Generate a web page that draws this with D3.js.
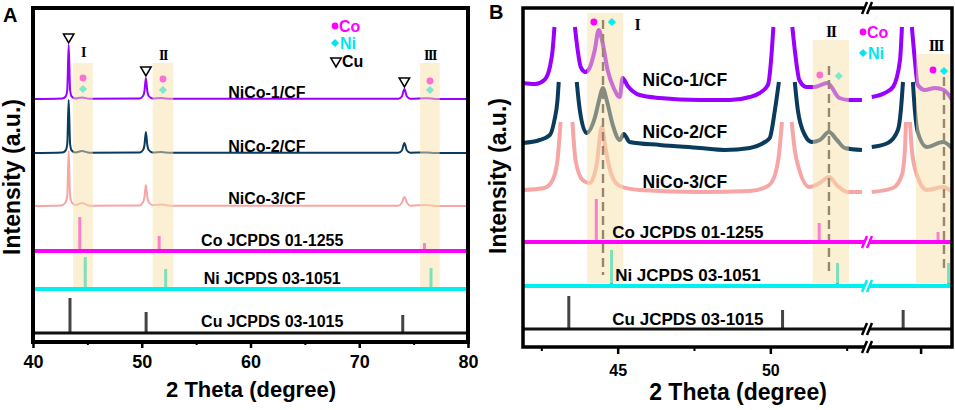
<!DOCTYPE html>
<html>
<head>
<meta charset="utf-8">
<script src="https://cdn.jsdelivr.net/npm/d3@7"></script>
<style>
  body { margin: 0; background: #fff; }
  text { font-family: "Liberation Sans", Arial, sans-serif; font-weight: bold; }
</style>
</head>
<body>
<svg width="955" height="410"></svg>
<script>
// ---- data: [2theta, intensity a.u. above own baseline] ----
const samples = ["NiCo-1/CF", "NiCo-2/CF", "NiCo-3/CF"];
const refNames = ["Co JCPDS 01-1255", "Ni JCPDS 03-1051", "Cu JCPDS 03-1015"];

const coPeaks = [44.3, 51.6, 76.0];
const niPeaks = [44.8, 52.2, 76.6];
const cuPeaks = [43.4, 50.4, 74.0];
const coIntA = [34, 15, 8], niIntA = [32, 20, 21], cuIntA = [35, 21, 18];
const coIntB = [43, 19, 10], niIntB = [36, 23, 23], cuIntB = [33, 19, 19];

const regionNames = ["I", "II", "III"];
const regionsA = [[43.7, 45.5], [51.0, 52.9], [75.6, 77.4]];
const regionsB = [[44.0, 45.18], [51.39, 52.57], [74.74, 76.8]];
const cuMarkA = [43.28, 50.38, 74.15];
const coMarkB = [44.22, 51.62, 75.71];
const niMarkB = [44.81, 52.24, 76.34];
const shiftB = [44.52, 51.92, 76.34];

const ticksA = [40, 50, 60, 70, 80], minorA = [45, 55, 65, 75];
const ticksB = [45, 50, 75], minorB = [42.5, 47.5, 52.5], labelsB = [45, 50];

const nico1A = [[40,0],[42.7,0.5],[43.0,2.5],[43.15,9],[43.28,54],[43.41,9],[43.56,2.5],[43.9,0.5],[44.5,1.5],[45.2,0.3],
  [49.8,0.5],[50.12,3],[50.25,8],[50.38,21],[50.51,8],[50.64,3],[51.0,0.5],[51.8,1],[52.6,0.2],
  [73.6,0.3],[73.92,2.5],[74.15,10],[74.38,2.5],[74.7,0.3],[76.2,0.8],[77,0],[80,0]];
const nico2A = [[40,0],[42.7,0.5],[43.0,2.5],[43.15,9],[43.28,53],[43.41,9],[43.56,2.5],[43.9,0.6],[44.5,2],[45.2,0.3],
  [49.8,0.5],[50.12,3],[50.25,8],[50.38,21],[50.51,8],[50.64,3],[51.0,0.5],[51.8,1],[52.6,0.2],
  [73.6,0.3],[73.92,2.5],[74.15,10],[74.38,2.5],[74.7,0.3],[76.2,0.6],[77,0],[80,0]];
const nico3A = [[40,0],[42.6,0.5],[42.95,3],[43.15,10],[43.28,55],[43.41,10],[43.6,3],[43.95,1],[44.5,3],[45.2,0.3],
  [49.8,0.5],[50.1,3.5],[50.25,9],[50.38,21],[50.51,9],[50.66,3.5],[51.0,0.8],[51.8,1.5],[52.6,0.3],
  [73.6,0.3],[73.9,3],[74.15,9],[74.4,3],[74.7,0.3],[76.2,1],[77,0],[80,0]];

// zoomed patterns, peak tops cut off as in the figure (null = gap)
const nico1B = [[41.9,14],[42.3,13],[42.6,17],[42.78,30],[42.87,47],[42.93,70], null,
  [43.6,70],[43.69,47],[43.79,30],[43.95,25],[44.08,29],[44.25,47],[44.38,67],[44.5,55],[44.67,27],[44.87,9],[45.07,0],
  [45.16,19],[45.33,11],[45.72,2],[46.38,-1],[47.69,-3],[48.67,-3],[49.33,0],[49.65,4],[49.92,12],[50.05,47],[50.1,70], null,
  [50.72,70],[50.82,42],[50.95,17],[51.18,10],[51.44,10],[51.87,14],[52.26,-1],[52.59,-3],[53.0,-3], null,
  [72.2,0],[72.95,4],[73.42,10],[73.82,37],[73.93,70], null,
  [74.5,70],[74.67,37],[74.84,12],[75.25,7],[75.82,9],[76.34,7],[76.8,-3]];
const nico2B = [[41.9,2],[42.45,5],[42.78,10],[42.93,25],[43.03,45],[43.07,63], null,
  [43.66,63],[43.76,35],[43.98,12],[44.25,27],[44.41,47],[44.51,57],[44.64,45],[44.84,20],[45.07,5],[45.2,11],[45.39,3],
  [46.38,0],[47.69,-3],[48.5,-5],[49.33,-3],[49.82,3],[49.98,7],[50.15,35],[50.28,63], null,
  [50.8,63],[50.9,35],[51.13,10],[51.36,3],[51.62,5],[51.92,13],[52.18,5],[52.44,-3],[53.0,-5], null,
  [72.2,-2],[73.12,2],[73.7,15],[73.87,35],[73.99,63], null,
  [74.56,63],[74.67,35],[74.85,12],[75.36,-2],[76.28,3],[76.8,-3]];
const nico3B = [[41.9,0],[42.6,2],[42.87,10],[43.03,30],[43.13,68], null,
  [43.52,68],[43.62,30],[43.85,10],[44.08,7],[44.31,25],[44.48,63],[44.61,40],[44.8,15],[45.07,4],[45.72,0],
  [47.69,-2],[49.33,-1],[49.92,4],[50.15,15],[50.28,35],[50.38,68], null,
  [50.7,68],[50.8,40],[50.95,20],[51.28,3],[51.62,7],[51.92,13],[52.2,4],[52.53,-2],[53.0,-2], null,
  [72.2,-2],[73.41,2],[73.93,15],[74.1,40],[74.16,68], null,
  [74.39,68],[74.5,40],[74.79,15],[75.36,0],[76.28,3],[76.8,-2]];

// ---- styles ----
const traceColors = ["#9900ff", "#0b3b5c", "#f6a7a5"];
const refColors = ["#ff00ff", "#00f0f0", "#111"];
const stickColors = ["#ff20e8", "#00e0cc", "#444"];
const bandColor = "#f8e0aa";

const svg = d3.select("svg");

const panels = [
  {
    name: "A",
    x: d3.scaleLinear().domain([40, 80]).range([33, 468]),
    y: d3.scaleLinear().domain([0, 334]).range([342, 8]),
    l: 33, r: 468, t: 8, b: 342, frameW: 4, lw: 2,
    patterns: [nico1A, nico2A, nico3A],
    off: [243, 189, 136], refOff: [91, 53, 9],
    ints: [coIntA, niIntA, cuIntA],
    regions: regionsA, bandTop: [63, 63, 63], bandBot: 288,
    romanX: [44.6, 51.95, 76.5], romanY: [57, 60, 60], romanSize: 14,
    coMark: regionsA.map(d => (d[0] + d[1]) / 2), niMark: regionsA.map(d => (d[0] + d[1]) / 2),
    coMarkY: [78, 79, 81], niMarkY: [89, 90, 90], under: [true, true, true],
    sampleX: 61.5, sampleY: [98, 152, 204], sampleSize: 16,
    refX: 62.0, refY: [246, 284, 327], refSize: 16,
    ticks: ticksA, minor: minorA, labels: ticksA, tickLen: 6, minorLen: 3, tickLabY: 26, tickSize: 18,
    titleX: 251, titleY: 397, titleSize: 22,
    yTitleX: 20, yTitleY: 177,
    letterX: 3, letterY: 22,
    legendX: 335, legendY: [26, 43, 62], legend: 3
  },
  {
    name: "B",
    x: d3.scaleLinear().domain([41.9, 53.1, 72.1, 76.8]).range([523, 865, 870, 952]),
    y: d3.scaleLinear().domain([0, 339]).range([347, 8]),
    l: 523, r: 952, t: 8, b: 347, frameW: 3.5, lw: 4,
    patterns: [nico1B, nico2B, nico3B],
    off: [250, 202, 157], refOff: [105, 61, 18],
    ints: [coIntB, niIntB, cuIntB],
    regions: regionsB, bandTop: [13, 40, 54], bandBot: 283,
    romanX: [45.63, 51.98, 75.88], romanY: [30, 37, 51], romanSize: 16,
    coMark: coMarkB, niMark: niMarkB,
    coMarkY: [22, 75, 70], niMarkY: [22, 76, 71], under: [false, true, false],
    sampleX: 47.2, sampleY: [86, 138, 188], sampleSize: 17.5,
    refX: 47.3, refY: [238, 281, 325], refSize: 17,
    ticks: ticksB, minor: minorB, labels: labelsB, tickLen: 7, minorLen: 4, tickLabY: 29, tickSize: 16,
    titleX: 738, titleY: 400, titleSize: 23,
    yTitleX: 506, yTitleY: 176,
    letterX: 489, letterY: 19,
    legendX: 863, legendY: [32, 53], legend: 2,
    breakX: 867
  }
];

function diamond(g, x, y, color) {
  g.append("path").attr("d", d3.symbol(d3.symbolSquare, 34)())
    .attr("transform", `translate(${x},${y}) rotate(45)`).attr("fill", color);
}
function dot(g, x, y, color) {
  g.append("circle").attr("cx", x).attr("cy", y).attr("r", 3.4).attr("fill", color);
}
function triangle(g, x, y) {
  g.append("path").attr("d", d3.symbol(d3.symbolTriangle, 46)())
    .attr("transform", `translate(${x},${y}) rotate(180)`)
    .attr("fill", "#fff").attr("stroke", "#000").attr("stroke-width", 1.6);
}
function breakMark(g, x, y, color) {
  g.append("path").attr("d", `M${x - 5},${y + 6}L${x},${y - 6}L${x + 5},${y - 6}L${x},${y + 6}Z`).attr("fill", "#fff");
  [x - 5, x].forEach(x0 => g.append("line")
    .attr("x1", x0).attr("y1", y + 6).attr("x2", x0 + 5).attr("y2", y - 6)
    .attr("stroke", color).attr("stroke-width", 2.5));
}

panels.forEach(P => {
  const g = svg.append("g");

  // diffraction patterns
  P.patterns.forEach((pat, i) => {
    const line = d3.line().defined(d => d !== null)
      .x(d => P.x(d[0])).y(d => P.y(P.off[i] + d[1]))
      .curve(d3.curveMonotoneX);
    g.append("path").attr("d", line(pat))
      .attr("fill", "none").attr("stroke", traceColors[i])
      .attr("stroke-width", P.lw).attr("stroke-linejoin", "round");
  });

  // standard card sticks
  [coPeaks, niPeaks, cuPeaks].forEach((pk, j) => {
    pk.forEach((v, k) => {
      g.append("line").attr("x1", P.x(v)).attr("x2", P.x(v))
        .attr("y1", P.y(P.refOff[j])).attr("y2", P.y(P.refOff[j] + P.ints[j][k]))
        .attr("stroke", stickColors[j]).attr("stroke-width", 3);
    });
  });

  const markers = (under) => P.regions.forEach((r, k) => {
    if (P.under[k] !== under) return;
    dot(g, P.x(P.coMark[k]), P.coMarkY[k], refColors[0]);
    diamond(g, P.x(P.niMark[k]), P.niMarkY[k], refColors[1]);
  });
  markers(true);

  // highlighted regions
  g.selectAll(null).data(P.regions).join("rect")
    .attr("x", d => P.x(d[0])).attr("width", d => P.x(d[1]) - P.x(d[0]))
    .attr("y", (d, k) => P.bandTop[k]).attr("height", (d, k) => P.bandBot - P.bandTop[k])
    .attr("fill", bandColor).attr("opacity", 0.5);

  markers(false);

  // dashed guides in the zoomed panel
  if (P.name === "B") {
    const dashTop = [20, 66, 77], dashBot = [275, 274, 270];
    shiftB.forEach((v, k) => {
      g.append("line").attr("x1", P.x(v)).attr("x2", P.x(v))
        .attr("y1", dashTop[k]).attr("y2", dashBot[k])
        .attr("stroke", "#96876e").attr("stroke-width", 2.4).attr("stroke-dasharray", "9,5");
    });
  }

  // reference baselines
  P.refOff.forEach((o, j) => {
    g.append("line").attr("x1", P.l).attr("x2", P.r).attr("y1", P.y(o)).attr("y2", P.y(o))
      .attr("stroke", refColors[j]).attr("stroke-width", j < 2 ? 4 : 3);
  });

  // frame
  g.append("rect").attr("x", P.l).attr("y", P.t).attr("width", P.r - P.l).attr("height", P.b - P.t)
    .attr("fill", "none").attr("stroke", "#000").attr("stroke-width", P.frameW);

  // axis
  const ax = g.append("g").attr("transform", `translate(0,${P.b})`)
    .call(d3.axisBottom(P.x).tickValues(P.ticks).tickSize(P.tickLen).tickSizeOuter(0)
      .tickFormat(d => P.labels.includes(d) ? d : ""));
  ax.select(".domain").remove();
  ax.selectAll("line").attr("stroke", "#000").attr("stroke-width", 2.5);
  ax.selectAll("text").attr("y", P.tickLabY).attr("dy", 0).attr("fill", "#000")
    .style("font-size", P.tickSize + "px").style("font-family", "Liberation Sans, Arial, sans-serif").style("font-weight", "bold");
  const axm = g.append("g").attr("transform", `translate(0,${P.b})`)
    .call(d3.axisBottom(P.x).tickValues(P.minor).tickSize(P.minorLen).tickSizeOuter(0).tickFormat(""));
  axm.select(".domain").remove();
  axm.selectAll("line").attr("stroke", "#000").attr("stroke-width", 2);

  if (P.breakX) {
    [[P.t, "#000"], [P.y(P.refOff[0]), refColors[0]], [P.y(P.refOff[1]), refColors[1]],
     [P.y(P.refOff[2]), "#000"], [P.b, "#000"]].forEach(([yy, c]) => breakMark(g, P.breakX, yy, c));
  }

  // labels
  samples.forEach((s, i) => g.append("text").attr("x", P.x(P.sampleX)).attr("y", P.sampleY[i])
    .attr("text-anchor", "middle").style("font-size", P.sampleSize + "px").text(s));
  refNames.forEach((s, j) => g.append("text").attr("x", P.x(P.refX)).attr("y", P.refY[j])
    .attr("text-anchor", "middle").style("font-size", P.refSize + "px").text(s));

  regionNames.forEach((s, k) => g.append("text").attr("x", P.x(P.romanX[k])).attr("y", P.romanY[k])
    .attr("text-anchor", "middle").style("font-family", "Liberation Serif, Times New Roman, serif")
    .style("font-size", P.romanSize + "px").style("letter-spacing", "-1.5px").text(s));

  // Cu markers above copper peaks
  if (P.name === "A") {
    cuMarkA.forEach(v => {
      const top = d3.max(nico1A.filter(d => Math.abs(d[0] - v) < 0.5), d => d[1]);
      triangle(g, P.x(v), P.y(P.off[0] + top) - 8);
    });
  }

  // legend
  const lx = P.legendX;
  dot(g, lx, P.legendY[0], refColors[0]);
  g.append("text").attr("x", lx + 4).attr("y", P.legendY[0] + 5.5).attr("fill", "#ff00ff")
    .style("font-size", "16px").text("Co");
  diamond(g, lx, P.legendY[1], "#00e5ee");
  g.append("text").attr("x", lx + 5).attr("y", P.legendY[1] + 5.5).attr("fill", "#00e5ee")
    .style("font-size", "16px").text("Ni");
  if (P.legend === 3) {
    triangle(g, lx + 1, P.legendY[2] - 1);
    g.append("text").attr("x", lx + 7).attr("y", P.legendY[2] + 5).attr("fill", "#000")
      .style("font-size", "16px").text("Cu");
  }

  // titles
  g.append("text").attr("x", P.titleX).attr("y", P.titleY).attr("text-anchor", "middle")
    .style("font-size", P.titleSize + "px").text("2 Theta (degree)");
  g.append("text").attr("transform", `translate(${P.yTitleX},${P.yTitleY}) rotate(-90)`)
    .attr("text-anchor", "middle").style("font-size", "23px").text("Intensity (a.u.)");
  g.append("text").attr("x", P.letterX).attr("y", P.letterY).style("font-size", "20px").text(P.name);
});
</script>
</body>
</html>
